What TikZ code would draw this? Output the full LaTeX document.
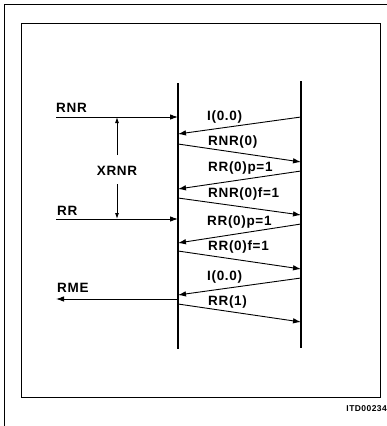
\documentclass[tikz,border=0pt]{standalone}
\usepackage{fontspec}
\setmainfont{Liberation Sans}[LetterSpace=5]
\usetikzlibrary{arrows.meta}
\begin{document}
\begin{tikzpicture}[x=1pt,y=-1pt,
  lifeline/.style={line width=1.5pt},
  msg/.style={line width=0.9pt,-{Latex[length=8pt,width=5.5pt]}},
  lbl/.style={font=\bfseries\fontsize{13.5}{15}\selectfont,inner sep=0pt,anchor=west},
  frameline/.style={line width=0.8pt}]
\useasboundingbox (0,0) rectangle (387,426);
% frames
\draw[frameline] (4,426) -- (4,4) -- (387,4);
\draw[frameline] (21,23) rectangle (380,397);
% lifelines
\coordinate (Ltop) at (178,83);
\coordinate (Lbot) at (178,349);
\coordinate (Rtop) at (301,81);
\coordinate (Rbot) at (301,348);
\draw[lifeline] (Ltop) -- (Lbot);
\draw[lifeline] (Rtop) -- (Rbot);
% left side signals
\coordinate (rnrS) at (56,117); \coordinate (rnrE) at (178,117);
\coordinate (rrS) at (56,219);  \coordinate (rrE) at (178,219);
\coordinate (rmeS) at (178,299); \coordinate (rmeE) at (56,299);
\draw[msg] (rnrS) -- (rnrE);
\draw[msg] (rrS) -- (rrE);
\draw[msg] (rmeS) -- (rmeE);
\node[lbl] (tRNR) at (56,108) {RNR};
\node[lbl] (tRR) at (57,211) {RR};
\node[lbl] (tRME) at (57,288) {RME};
% XRNR
\node[lbl,anchor=center] (tX) at (117,171) {XRNR};
\coordinate (xT) at (117,117); \coordinate (xB) at (117,219);
\draw[line width=0.9pt,-{Latex[length=6pt,width=4pt]}] (117,155) -- (xT);
\draw[line width=0.9pt,-{Latex[length=6pt,width=4pt]}] (117,184) -- (xB);
% messages
\coordinate (a1) at (301,117); \coordinate (b1) at (178,134);
\coordinate (a2) at (178,144); \coordinate (b2) at (301,162);
\coordinate (a3) at (301,171); \coordinate (b3) at (178,189);
\coordinate (a4) at (178,198); \coordinate (b4) at (301,215);
\coordinate (a5) at (301,224); \coordinate (b5) at (178,243);
\coordinate (a6) at (178,251); \coordinate (b6) at (301,269);
\coordinate (a7) at (301,278); \coordinate (b7) at (178,295);
\coordinate (a8) at (178,304); \coordinate (b8) at (301,322);
\foreach \i in {1,...,8} {\draw[msg] (a\i) -- (b\i);}
\node[lbl] (m1) at (207,117) {I(0.0)};
\node[lbl] (m2) at (208,142) {RNR(0)};
\node[lbl] (m3) at (208,168) {RR(0)p=1};
\node[lbl] (m4) at (208,194) {RNR(0)f=1};
\node[lbl] (m5) at (207,222) {RR(0)p=1};
\node[lbl] (m6) at (208,247) {RR(0)f=1};
\node[lbl] (m7) at (207,277) {I(0.0)};
\node[lbl] (m8) at (208,302) {RR(1)};
\node[font=\bfseries\fontsize{8.5}{10}\selectfont,inner sep=0pt,anchor=east] (code) at (387,409) {ITD00234};
\end{tikzpicture}
\end{document}
